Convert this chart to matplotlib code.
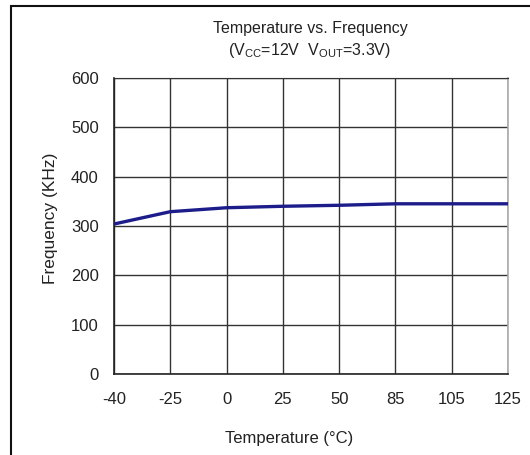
import matplotlib
matplotlib.use("Agg")
import matplotlib.pyplot as plt
from matplotlib.patches import Rectangle

temps = ["-40", "-25", "0", "25", "50", "85", "105", "125"]
freq = [304, 329, 337, 340, 342, 345, 345, 345]
yticks = [0, 100, 200, 300, 400, 500, 600]

plt.rcParams['font.family'] = ['Liberation Sans', 'DejaVu Sans']
plt.rcParams['mathtext.fontset'] = 'custom'
plt.rcParams['mathtext.rm'] = 'Liberation Sans'
plt.rcParams['mathtext.it'] = 'Liberation Sans'

fig = plt.figure(figsize=(5.3, 4.55), dpi=100)
W, H = 530, 455
ax = fig.add_axes([114 / W, 1 - 374 / H, (508 - 114) / W, (374 - 78) / H])

x = list(range(len(temps)))
ax.plot(x, freq, color='#1c1c8a', lw=2.4, solid_capstyle='butt', zorder=3)

ax.set_xlim(0, len(temps) - 1)
ax.set_ylim(0, 600)
ax.set_xticks(x)
ax.set_xticklabels(temps)
ax.set_yticks(yticks)
ax.grid(True, color='#333333', lw=1.0)
ax.tick_params(length=0, labelsize=12, colors='#222222', pad=13)
ax.tick_params(axis='y', pad=11)
for s in ['left', 'bottom']:
    ax.spines[s].set_color('#222222')
    ax.spines[s].set_linewidth(1.2)
ax.spines['top'].set_color('#333333')
ax.spines['right'].set_color('#aaaaaa')
ax.spines['right'].set_linewidth(1.2)

fig.text(289 / W, 1 - 438 / H, 'Temperature (°C)', ha='center', va='center',
         fontsize=12, color='#222222')
fig.text(50 / W, 1 - 218 / H, 'Frequency (KHz)', ha='center', va='center',
         rotation=90, fontsize=12.5, color='#222222')

fig.text(310 / W, 1 - 28 / H, 'Temperature vs. Frequency', ha='center', va='center',
         fontsize=11.5, color='#222222')
fig.text(310 / W, 1 - 50 / H, r'(V$_{\mathrm{CC}}$=12V  V$_{\mathrm{OUT}}$=3.3V)',
         ha='center', va='center', fontsize=11.5, color='#222222')

fig.add_artist(Rectangle((10.5 / W, -0.1), 1.2, 1 - 6.5 / H + 0.1, transform=fig.transFigure,
                         fill=False, edgecolor='#111111', lw=1.5))

fig.savefig('out.png', dpi=100)
